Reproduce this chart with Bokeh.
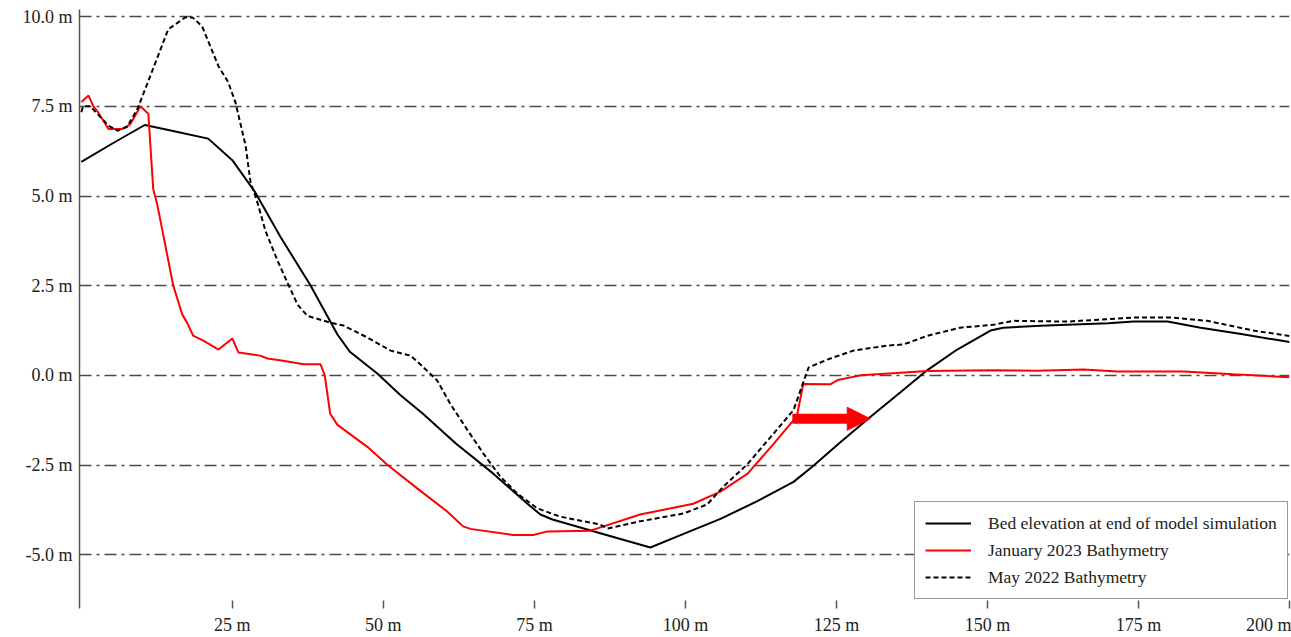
from bokeh.plotting import figure
from bokeh.models import Range1d, FixedTicker, PrintfTickFormatter, Arrow, NormalHead
from bokeh.embed import file_html
from bokeh.resources import INLINE

# Bed elevation at end of model simulation
bed_x = [0, 5, 10.5, 15, 21, 25, 28.8, 33, 37.9, 42.4, 44.5, 49, 52.8, 56.6, 62, 68.2, 74, 76, 78,
         85.9, 94.2, 100, 105.8, 112, 117.9, 121, 125.7, 130.6, 135.6, 140, 145, 150.5, 152.6, 158.8,
         163.2, 170, 174.2, 179.8, 185.3, 192, 200]
bed_y = [5.95, 6.45, 6.98, 6.82, 6.6, 6.0, 5.1, 3.85, 2.52, 1.14, 0.65, 0.05, -0.55, -1.08, -1.9, -2.74,
         -3.6, -3.88, -4.02, -4.4, -4.8, -4.4, -4.0, -3.5, -2.97, -2.55, -1.86, -1.16, -0.47, 0.14, 0.72,
         1.25, 1.33, 1.38, 1.41, 1.45, 1.5, 1.5, 1.33, 1.15, 0.93]

# January 2023 Bathymetry
jan_x = [0, 1.2, 2, 2.8, 4.5, 6.8, 8.1, 9.8, 11.1, 11.9, 12.6, 15.2, 16.7, 17.5, 18.5, 20.2, 22.7, 25,
         26, 29.6, 30.8, 33.4, 36.8, 39.6, 40.3, 41.2, 42.4, 47.4, 50.7, 55.6, 60.6, 63.2, 64.4, 71.5,
         74.8, 77.2, 84.3, 92.5, 101.3, 105.8, 110.3, 114.6, 117.9, 118.5, 119.5, 124, 125.2, 129,
         134.4, 140, 150.9, 158.3, 165.9, 171.5, 182.5, 190.7, 200]
jan_y = [7.62, 7.8, 7.5, 7.33, 6.87, 6.87, 7.0, 7.5, 7.29, 5.2, 4.74, 2.52, 1.7, 1.47, 1.11, 0.97, 0.72,
         1.03, 0.64, 0.55, 0.47, 0.41, 0.31, 0.31, 0.0, -1.07, -1.38, -2.0, -2.5, -3.15, -3.8, -4.21,
         -4.28, -4.45, -4.45, -4.35, -4.33, -3.88, -3.58, -3.24, -2.74, -1.91, -1.25, -1.1, -0.24,
         -0.25, -0.13, 0.0, 0.06, 0.12, 0.14, 0.13, 0.16, 0.11, 0.11, 0.03, -0.05]

# May 2022 Bathymetry
may_x = [0, 0.3, 1.5, 4.5, 6, 7.6, 9.3, 12.3, 14.4, 17.2, 18.4, 20, 22.7, 24.3, 25.5, 27.2, 28, 29.1,
         30.5, 32.5, 34.3, 35.8, 37.4, 41.2, 43.4, 47.4, 51.2, 54.5, 56.1, 58.9, 61.1, 63.9, 66.6,
         69.4, 72.2, 75.5, 79.3, 85.9, 87.1, 92.5, 99.7, 103.6, 106.3, 110.3, 114.1, 117.9, 119.5,
         120.4, 123.5, 127.8, 133.4, 136.1, 140, 145.5, 151, 154.3, 163.2, 174.2, 180.8, 186.4, 194, 200]
may_y = [7.34, 7.5, 7.5, 6.96, 6.82, 6.93, 7.43, 8.73, 9.65, 9.98, 9.98, 9.73, 8.62, 8.18, 7.62, 6.4,
         5.4, 4.85, 4.02, 3.19, 2.52, 1.97, 1.66, 1.47, 1.39, 1.05, 0.69, 0.55, 0.31, -0.14, -0.8,
         -1.52, -2.19, -2.83, -3.3, -3.71, -3.94, -4.16, -4.27, -4.07, -3.85, -3.6, -3.1, -2.47,
         -1.72, -0.97, -0.2, 0.22, 0.44, 0.69, 0.83, 0.86, 1.1, 1.33, 1.41, 1.52, 1.5, 1.61, 1.61,
         1.52, 1.25, 1.1]

# red arrow annotation (start, end)
arrow_x = [117.7, 130.6]
arrow_y = [-1.21, -1.21]

y_ticks = [-5.0, -2.5, 0.0, 2.5, 5.0, 7.5, 10.0]
x_ticks = [25, 50, 75, 100, 125, 150, 175, 200]

FONT = "Liberation Serif"

p = figure(width=1291, height=637, output_backend="svg", toolbar_location=None,
           x_range=Range1d(-0.3, 200), y_range=Range1d(-6.5, 10.2),
           min_border_left=79, min_border_right=2, min_border_top=9, min_border_bottom=25)
p.outline_line_color = None
p.background_fill_color = "white"
p.border_fill_color = "white"

p.line(bed_x, bed_y, line_color="black", line_width=2, legend_label="Bed elevation at end of model simulation")
p.line(jan_x, jan_y, line_color="#ff0000", line_width=2, legend_label="January 2023 Bathymetry")
p.line(may_x, may_y, line_color="black", line_width=2, line_dash="5 3", legend_label="May 2022 Bathymetry")

p.add_layout(Arrow(x_start=arrow_x[0], y_start=arrow_y[0], x_end=arrow_x[1], y_end=arrow_y[1],
                   line_color="#ff0000", line_width=10, line_cap="butt",
                   end=NormalHead(size=23, fill_color="#ff0000", line_color="#ff0000", line_width=1)))

# grid
p.xgrid.visible = False
p.ygrid.ticker = FixedTicker(ticks=y_ticks)
p.ygrid.grid_line_color = "#4a4a4a"
p.ygrid.grid_line_width = 1.5
p.ygrid.grid_line_dash = "12 5 3 5"

# y axis
p.yaxis.ticker = FixedTicker(ticks=y_ticks)
p.yaxis.formatter = PrintfTickFormatter(format="%.1f m")
p.yaxis.axis_line_color = "#555555"
p.yaxis.axis_line_width = 1.5
p.yaxis.major_tick_out = 0
p.yaxis.major_tick_in = 0
p.yaxis.minor_tick_out = 0
p.yaxis.minor_tick_in = 0
p.yaxis.major_label_standoff = 7
p.yaxis.major_label_text_font = FONT
p.yaxis.major_label_text_font_size = "18px"
p.yaxis.major_label_text_color = "#222222"

# x axis
p.xaxis.ticker = FixedTicker(ticks=x_ticks)
p.xaxis.formatter = PrintfTickFormatter(format="%d m")
p.xaxis.axis_line_color = None
p.xaxis.major_tick_line_color = "#555555"
p.xaxis.major_tick_line_width = 1.5
p.xaxis.major_tick_in = 8
p.xaxis.major_tick_out = 0
p.xaxis.minor_tick_out = 0
p.xaxis.minor_tick_in = 0
p.xaxis.major_label_standoff = 6
p.xaxis.major_label_text_font = FONT
p.xaxis.major_label_text_font_size = "18px"
p.xaxis.major_label_text_color = "#222222"

# legend
lg = p.legend[0]
lg.location = (835, 9)
lg.margin = 0
lg.padding = 10
lg.spacing = 5
lg.glyph_width = 46
lg.glyph_height = 22
lg.label_height = 22
lg.label_standoff = 17
lg.label_text_font = FONT
lg.label_text_font_size = "17.5px"
lg.label_text_color = "#222222"
lg.border_line_color = "#333333"
lg.border_line_width = 1
lg.background_fill_color = "white"
lg.background_fill_alpha = 1.0

open("out.html", "w").write(file_html(p, INLINE))
